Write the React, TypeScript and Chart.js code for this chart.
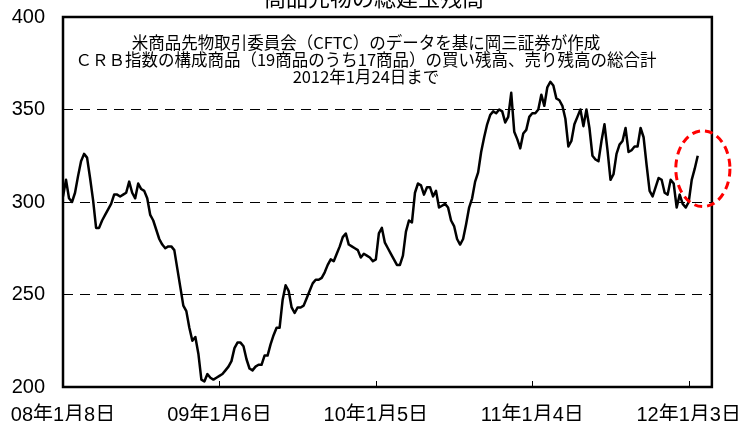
import React, { useEffect, useRef } from "react";
import { Chart, registerables } from "chart.js";

Chart.register(...registerables);

const chartTitle = "商品先物の総建玉残高";
const noteLines = [
  "米商品先物取引委員会（CFTC）のデータを基に岡三証券が作成",
  "ＣＲＢ指数の構成商品（19商品のうち17商品）の買い残高、売り残高の総合計",
  "2012年1月24日まで",
];

// weekly index from 2008-01-08
const xTickWeeks = [0, 52, 104, 156, 208];
const xTickLabels = ["08年1月8日", "09年1月6日", "10年1月5日", "11年1月4日", "12年1月3日"];
const yMin = 200;
const yMax = 400;
const yStep = 50;

const oi2008 = [
  303, 312, 302, 300, 305, 314, 322, 326, 324, 313,
  301, 286, 286, 290, 293, 296, 299, 304, 304, 303,
  304, 305, 311, 305, 302, 310, 307, 306, 302, 293,
  290, 285, 280, 277, 275, 276, 276, 274, 264, 254,
  244, 241, 232, 225, 227, 218, 204, 203, 207, 205,
  204, 205,
];
const oi2009 = [
  206, 207, 209, 211, 214, 221, 224, 224, 222, 215,
  210, 209, 211, 212, 212, 217, 217, 223, 228, 232,
  232, 247, 255, 252, 243, 240, 243, 243, 244, 248,
  252, 256, 258, 258, 259, 262, 266, 269, 268, 272,
  276, 281, 283, 277, 276, 275, 274, 270, 272, 271,
  270, 268,
];
const oi2010 = [
  269, 283, 286, 278, 275, 272, 269, 266, 266, 271,
  284, 290, 289, 305, 310, 309, 304, 308, 308, 303,
  306, 297, 298, 299, 297, 290, 287, 280, 277, 280,
  288, 297, 302, 311, 316, 327, 335, 342, 347, 349,
  348, 350, 349, 343, 346, 359, 338, 334, 329, 337,
  339, 346,
];
const oi2011 = [
  348, 348, 350, 358, 352, 362, 365, 363, 356, 355,
  352, 345, 330, 333, 342, 346, 350, 341, 350, 340,
  325, 323, 322, 333, 342, 328, 312, 315, 326, 331,
  333, 340, 327, 328, 330, 330, 340, 335, 320, 306,
  303, 308, 313, 312, 305, 304, 312, 310, 297, 304,
  299, 297,
];
const oi2012 = [300, 312, 318, 325];

const openInterest = [...oi2008, ...oi2009, ...oi2010, ...oi2011, ...oi2012];

// red dashed ellipse highlighting the latest readings (in data units)
const highlight = { week: 212.7, value: 318, weekRadius: 9, valueRadius: 20.5 };

const W = 742;
const H = 421;
const labelFont = "'Liberation Sans', 'Noto Sans CJK JP', sans-serif";

const overlayPlugin = {
  id: "overlay",
  afterDraw(chart: any) {
    const { ctx, chartArea: a, scales } = chart;
    const xs = scales.x;
    const ys = scales.y;
    ctx.save();
    // inward tick marks on the bottom axis
    ctx.strokeStyle = "#000";
    ctx.lineWidth = 1;
    xTickWeeks.forEach((w) => {
      const px = Math.round(xs.getPixelForValue(w)) + 0.5;
      ctx.beginPath();
      ctx.moveTo(px, a.bottom);
      ctx.lineTo(px, a.bottom - 6);
      ctx.stroke();
    });
    // plot frame
    ctx.lineWidth = 2.5;
    ctx.strokeRect(a.left, a.top, a.right - a.left, a.bottom - a.top);
    // highlight ellipse
    const cx = xs.getPixelForValue(highlight.week);
    const cy = ys.getPixelForValue(highlight.value);
    const rx = Math.abs(xs.getPixelForValue(highlight.week + highlight.weekRadius) - cx);
    const ry = Math.abs(ys.getPixelForValue(highlight.value + highlight.valueRadius) - cy);
    ctx.strokeStyle = "#ff0000";
    ctx.lineWidth = 3;
    ctx.setLineDash([8, 5]);
    ctx.beginPath();
    ctx.ellipse(cx, cy, rx, ry, 0, 0, Math.PI * 2);
    ctx.stroke();
    ctx.setLineDash([]);
    // title (cut off at the top in the reference)
    ctx.fillStyle = "#000";
    ctx.textAlign = "center";
    ctx.font = "22px 'Noto Sans CJK JP'";
    ctx.textBaseline = "alphabetic";
    ctx.fillText(chartTitle, 374, 6);
    // notes
    ctx.font = "16.5px 'Noto Sans CJK JP'";
    ctx.textBaseline = "middle";
    noteLines.forEach((t, i) => ctx.fillText(t, 366, 43 + i * 17));
    ctx.restore();
  },
};

export default function App() {
  const ref = useRef<HTMLCanvasElement>(null);
  useEffect(() => {
    const chart = new Chart(ref.current as HTMLCanvasElement, {
      type: "line",
      data: {
        datasets: [
          {
            label: "総建玉残高",
            data: openInterest.map((v, i) => ({ x: i, y: v })),
            borderColor: "#000",
            borderWidth: 2.5,
            pointRadius: 0,
            tension: 0,
            fill: false,
            borderJoinStyle: "round",
          },
        ],
      },
      options: {
        responsive: false,
        animation: false,
        devicePixelRatio: 1,
        layout: { padding: { top: 17, right: 29, left: 0, bottom: 0 } },
        plugins: { legend: { display: false }, tooltip: { enabled: false } },
        scales: {
          x: {
            type: "linear",
            min: 0,
            max: 215.7,
            grid: {
              display: true,
              drawOnChartArea: false,
              drawTicks: true,
              tickLength: 16,
              tickColor: "rgba(0,0,0,0)",
              color: "rgba(0,0,0,0)",
            },
            border: { display: false },
            afterBuildTicks: (scale: any) => {
              scale.ticks = xTickWeeks.map((v) => ({ value: v }));
            },
            afterFit: (scale: any) => {
              scale.height = 34;
            },
            ticks: {
              autoSkip: false,
              maxRotation: 0,
              minRotation: 0,
              padding: 0,
              color: "#000",
              font: { family: labelFont, size: 20 },
              callback: (v: any) => {
                const i = xTickWeeks.indexOf(Number(v));
                return i >= 0 ? xTickLabels[i] : "";
              },
            },
          },
          y: {
            min: yMin,
            max: yMax,
            grid: {
              color: "#000",
              lineWidth: 1,
              drawTicks: true,
              tickLength: 18,
              tickColor: "rgba(0,0,0,0)",
            },
            border: { display: false, dash: [10, 7] },
            afterFit: (scale: any) => {
              scale.width = 63;
            },
            ticks: {
              stepSize: yStep,
              padding: 0,
              color: "#000",
              font: { family: labelFont, size: 20 },
            },
          },
        },
      },
      plugins: [overlayPlugin],
    } as any);
    return () => chart.destroy();
  }, []);
  return (
    <div style={{ position: "absolute", left: 0, top: 0, width: W, height: H, background: "#fff" }}>
      <canvas ref={ref} width={W} height={H} style={{ display: "block", width: W, height: H }} />
    </div>
  );
}
